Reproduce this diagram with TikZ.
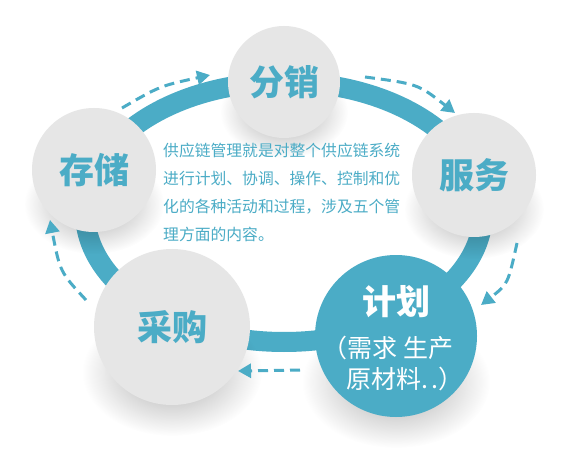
\documentclass[tikz,border=0pt]{standalone}
\usepackage{fontspec}
\newfontfamily\cjk{Noto Sans CJK SC}
\usetikzlibrary{arrows.meta,fadings}
\definecolor{teal1}{HTML}{4BACC6}
\definecolor{bubblegray}{HTML}{E6E6E6}
\tikzfading[name=softshadow, inner color=transparent!0, outer color=transparent!100]
\begin{document}
\begin{tikzpicture}[x=1pt,y=-1pt,
  bubble/.style={circle, fill=bubblegray, inner sep=0pt, minimum size=#1, text=teal1,
    font=\cjk\bfseries\fontsize{35}{35}\selectfont},
  flow/.style={teal1, line width=3pt, dash pattern=on 10pt off 6pt,
    -{Triangle[length=13pt,width=14pt]}},
  shadowblob/.style={fill=black, fill opacity=0.34, path fading=softshadow},
  desc/.style={text=teal1, font=\cjk\fontsize{15.8}{28}\selectfont, align=left,
    anchor=north west, inner sep=0pt},
  sub/.style={text=white, font=\cjk\fontsize{25}{25}\selectfont, inner sep=0pt}
]
\useasboundingbox (0,0) rectangle (567,454);
\fill[white] (0,0) rectangle (567,454);
% ring
\draw[teal1, line width=20pt] (284,212) ellipse [x radius=199, y radius=130];
% shadows
\fill[shadowblob] (284,112) ellipse [x radius=64, y radius=46];
\fill[shadowblob] (94,204) ellipse [x radius=70, y radius=50];
\fill[shadowblob] (474,209) ellipse [x radius=70, y radius=50];
\fill[shadowblob] (172,372) ellipse [x radius=90, y radius=64];
\fill[shadowblob] (396,382) ellipse [x radius=94, y radius=66];
% bubbles
\node[bubble=112pt] (fx) at (284,82) {分销};
\node[bubble=124pt] (cc) at (94,170) {存储};
\node[bubble=124pt] (fw) at (474,175) {服务};
\node[bubble=156pt] (cg) at (172,327) {采购};
\node[bubble=162pt, fill=teal1] (jh) at (396,336) {};
\node[text=white, font=\cjk\bfseries\fontsize{34}{34}\selectfont, inner sep=0pt] (jht) at (396,302) {计划};
\node[sub] (jhs1) at (388,348) {（需求 生产};
\node[sub] (jhs2) at (405,379) {原材料.\kern3pt.）};
% description
\node[desc] (txt) at (163,143) {供应链管理就是对整个供应链系统\\进行计划、协调、操作、控制和优\\化的各种活动和过程，涉及五个管\\理方面的内容。};
% dashed arrows
\coordinate (a1s) at (122,108); \coordinate (a1e) at (210,75);
\coordinate (a2s) at (365,77);  \coordinate (a2e) at (455,113);
\coordinate (a3s) at (517,243); \coordinate (a3e) at (481,305);
\coordinate (a4s) at (300,370); \coordinate (a4e) at (238,371);
\coordinate (a5s) at (86,300);  \coordinate (a5e) at (50,220);
\draw[flow] (a1s) .. controls (160,86) .. (a1e);
\draw[flow] (a2s) .. controls (418,84) .. (a2e);
\draw[flow] (a3s) .. controls (508,284) .. (a3e);
\draw[flow] (a4s) -- (a4e);
\draw[flow] (a5s) .. controls (60,272) .. (a5e);
\end{tikzpicture}
\end{document}
